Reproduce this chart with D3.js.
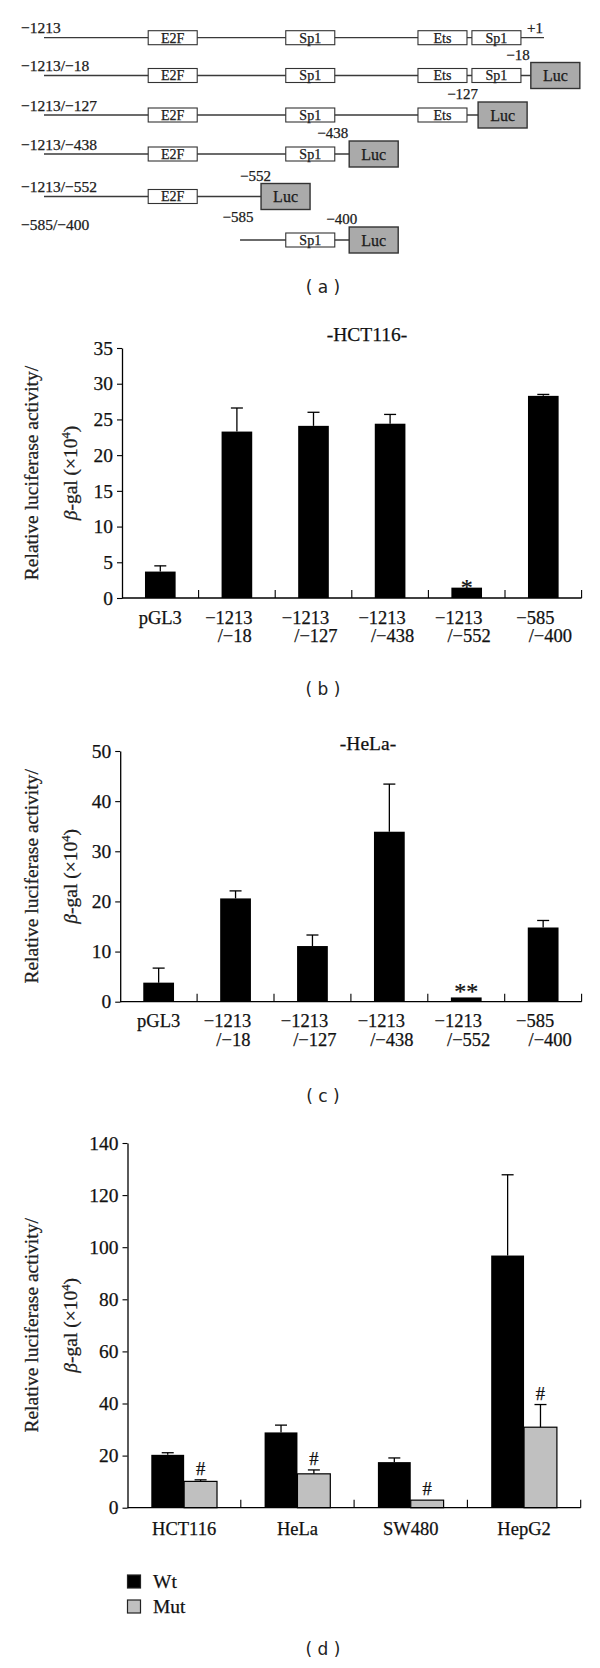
<!DOCTYPE html>
<html><head><meta charset="utf-8">
<script src="https://cdn.jsdelivr.net/npm/d3@7"></script>
<style>body{margin:0;background:#fff} svg{display:block} svg text{stroke:#111;stroke-width:0.25px}</style>
</head><body>
<svg id="fig" width="600" height="1668"></svg>
<script>
// ================= DATA =================
// (a) promoter schematic, positions in schematic bp units
const promoterStart = -1213, promoterEnd = 1;
const siteNames  = ["E2F", "Sp1", "Ets", "Sp1"];
const siteStarts = [-960, -626, -305, -174];
const siteEnds   = [-841, -507, -186, -55];
const constructLabels = ["−1213", "−1213/−18", "−1213/−127", "−1213/−438", "−1213/−552", "−585/−400"];
const constructFrom   = [-1213, -1213, -1213, -1213, -1213, -737];
const constructSites  = [[0,1,2,3], [0,1,2,3], [0,1,2], [0,1], [0], [1]];
const lucStarts       = [null, -31, -159, -472, -686, -472];
const cutLabels       = ["", "−18", "−127", "−438", "−552", "−400"];
const lucWidthBp = 119;

// (b), (c) deletion constructs
const catLine1 = ["pGL3", "−1213", "−1213", "−1213", "−1213", "−585"];
const catLine2 = ["", "/−18", "/−127", "/−438", "/−552", "/−400"];
const hctValues = [3.7, 23.3, 24.1, 24.4, 1.45, 28.3];
const hctErrors = [0.8, 3.3, 1.9, 1.3, 0, 0.2];
const hctMarks  = ["", "", "", "", "*", ""];
const helaValues = [3.8, 20.6, 11.1, 33.9, 0.85, 14.8];
const helaErrors = [2.9, 1.5, 2.2, 9.5, 0, 1.4];
const helaMarks  = ["", "", "", "", "**", ""];

// (d) Wt vs Mut
const cellLines = ["HCT116", "HeLa", "SW480", "HepG2"];
const seriesNames = ["Wt", "Mut"];
const wtValues  = [20.3, 28.9, 17.5, 96.8];
const wtErrors  = [0.8, 2.8, 1.6, 31.0];
const mutValues = [10.1, 13.0, 2.9, 30.9];
const mutErrors = [0.6, 1.5, 0, 8.7];
const mutMarks  = ["#", "#", "#", "#"];

// ================= STYLE / LAYOUT =================
const SERIF = "'Liberation Serif','Times New Roman',serif";
const SANS = "'DejaVu Sans',Verdana,sans-serif";
const svg = d3.select("#fig");

// ---------- Panel (a) ----------
const xs = d3.scaleLinear().domain([promoterStart, promoterEnd]).range([44, 544]);
const rowY = d3.scaleLinear().domain([0,1,2,3,4,5]).range([37.7, 75.5, 115, 154, 196.5, 240]);
const cutDx = [0, -1, 0, -1, 10, 8];
const gA = svg.append("g");
constructLabels.forEach((lab, i) => {
  const y = rowY(i);
  const endBp = lucStarts[i] === null ? promoterEnd : lucStarts[i];
  gA.append("line").attr("x1", xs(constructFrom[i])).attr("x2", xs(endBp))
    .attr("y1", y).attr("y2", y).attr("stroke", "#3a3a3a").attr("stroke-width", 1.3);
  constructSites[i].forEach(k => {
    const x0 = xs(siteStarts[k]), x1 = xs(siteEnds[k]);
    gA.append("rect").attr("x", x0).attr("y", y - 7).attr("width", x1 - x0).attr("height", 14)
      .attr("fill", "#fff").attr("stroke", "#333").attr("stroke-width", 1.1);
    gA.append("text").attr("x", (x0 + x1) / 2).attr("y", y + 4.8).attr("text-anchor", "middle")
      .attr("font-family", SERIF).attr("font-size", 14).attr("fill", "#222").text(siteNames[k]);
  });
  if (lucStarts[i] !== null) {
    const lx = xs(lucStarts[i]), lw = xs(lucStarts[i] + lucWidthBp) - lx;
    gA.append("rect").attr("x", lx).attr("y", y - 13).attr("width", lw).attr("height", 26)
      .attr("fill", "#aaaaaa").attr("stroke", "#333").attr("stroke-width", 1.4);
    gA.append("text").attr("x", lx + lw / 2).attr("y", y + 5.5).attr("text-anchor", "middle")
      .attr("font-family", SERIF).attr("font-size", 16).attr("fill", "#222").text("Luc");
    gA.append("text").attr("x", lx + cutDx[i]).attr("y", y - 16).attr("text-anchor", "end")
      .attr("font-family", SERIF).attr("font-size", 15).attr("fill", "#222").text(cutLabels[i]);
  }
  gA.append("text").attr("x", 21).attr("y", i === 5 ? y - 10 : y - 4.5)
    .attr("font-family", SERIF).attr("font-size", 15.5).attr("fill", "#222").text(lab);
});
gA.append("text").attr("x", xs(promoterEnd) - 1).attr("y", rowY(0) - 4.5).attr("text-anchor", "end")
  .attr("font-family", SERIF).attr("font-size", 15).attr("fill", "#222").text("+1");
gA.append("text").attr("x", xs(constructFrom[5]) - 2).attr("y", rowY(5) - 18.5).attr("text-anchor", "middle")
  .attr("font-family", SERIF).attr("font-size", 15).attr("fill", "#222").text("−585");

// ---------- helpers ----------
function panelLabel(letter, y) {
  svg.append("text").attr("x", 323).attr("y", y).attr("text-anchor", "middle")
    .attr("font-family", SANS).attr("font-size", 17).attr("fill", "#222").style("stroke-width", 0)
    .attr("xml:space", "preserve").text("( " + letter + " )");
}
function yLabel(cy) {
  svg.append("text").attr("transform", `translate(38,${cy}) rotate(-90)`).attr("text-anchor", "middle")
    .attr("font-family", SERIF).attr("font-size", 19.5).attr("fill", "#222").text("Relative luciferase activity/");
  const t2 = svg.append("text").attr("transform", `translate(77,${cy}) rotate(-90)`).attr("text-anchor", "middle")
    .attr("font-family", SERIF).attr("font-size", 19.5).attr("fill", "#222");
  t2.append("tspan").attr("font-style", "italic").text("β");
  t2.append("tspan").text("-gal (×10");
  t2.append("tspan").attr("dy", -7).attr("font-size", 12.5).text("4");
  t2.append("tspan").attr("dy", 7).text(")");
}
function yAxis(g, y, left, yMax, step) {
  const ax = g.append("g").attr("transform", `translate(${left},0)`)
    .call(d3.axisLeft(y).tickValues(d3.range(0, yMax + 0.001, step)).tickSize(5).tickSizeOuter(0).tickPadding(4));
  ax.select(".domain").attr("stroke", "#000").attr("stroke-width", 1.3);
  ax.selectAll(".tick line").attr("stroke", "#000").attr("stroke-width", 1.1);
  ax.selectAll(".tick text").attr("font-family", SERIF).attr("font-size", 19.5).attr("fill", "#111");
}
function xAxisLine(g, left, right, bottom, n) {
  g.append("line").attr("x1", left).attr("x2", right).attr("y1", bottom).attr("y2", bottom)
    .attr("stroke", "#000").attr("stroke-width", 1.3);
  const stepW = (right - left) / n;
  d3.range(1, n + 1).forEach(i => {
    g.append("line").attr("x1", left + i * stepW).attr("x2", left + i * stepW)
      .attr("y1", bottom).attr("y2", bottom - 8).attr("stroke", "#000").attr("stroke-width", 1.1);
  });
}
function errBar(g, cx, yTop, yErr, cap) {
  if (Math.abs(yTop - yErr) < 0.5) return;
  g.append("line").attr("x1", cx).attr("x2", cx).attr("y1", yTop).attr("y2", yErr).attr("stroke", "#000").attr("stroke-width", 1.3);
  g.append("line").attr("x1", cx - cap / 2).attr("x2", cx + cap / 2).attr("y1", yErr).attr("y2", yErr).attr("stroke", "#000").attr("stroke-width", 1.3);
}

// ---------- Panels (b), (c) ----------
function deletionPanel(cfg) {
  const g = svg.append("g");
  const x = d3.scaleBand().domain(d3.range(catLine1.length)).range([cfg.left, cfg.right])
    .paddingInner(0.6).paddingOuter(0.3);
  const y = d3.scaleLinear().domain([0, cfg.yMax]).range([cfg.bottom, cfg.top]);
  g.selectAll("rect.bar").data(cfg.values).join("rect").attr("class", "bar")
    .attr("x", (d, i) => x(i)).attr("width", x.bandwidth())
    .attr("y", d => y(d)).attr("height", d => y(0) - y(d)).attr("fill", "#000");
  cfg.values.forEach((v, i) => errBar(g, x(i) + x.bandwidth() / 2, y(v), y(v + cfg.errors[i]), 12));
  cfg.marks.forEach((m, i) => {
    if (!m) return;
    g.append("text").attr("x", x(i) + x.bandwidth() / 2).attr("y", y(cfg.values[i] + cfg.errors[i]) + cfg.markDy)
      .attr("text-anchor", "middle").attr("font-family", SERIF).attr("font-size", 24).attr("fill", "#111").text(m);
  });
  yAxis(g, y, cfg.left, cfg.yMax, cfg.step);
  xAxisLine(g, cfg.left, cfg.right, cfg.bottom, catLine1.length);
  const step = x.step();
  catLine1.forEach((l1, i) => {
    const c = cfg.left + step * (i + 0.5);
    if (!catLine2[i]) {
      g.append("text").attr("x", c).attr("y", cfg.bottom + 25.5).attr("text-anchor", "middle")
        .attr("font-family", SERIF).attr("font-size", 18.5).attr("fill", "#111").text(l1);
    } else {
      const t1 = g.append("text").attr("x", c - 8).attr("y", cfg.bottom + 25.5).attr("text-anchor", "middle")
        .attr("font-family", SERIF).attr("font-size", 18.5).attr("fill", "#111").text(l1);
      const w1 = t1.node().getComputedTextLength();
      g.append("text").attr("x", c - 8 - w1 / 2 + 12.5).attr("y", cfg.bottom + 44)
        .attr("font-family", SERIF).attr("font-size", 18.5).attr("fill", "#111").text(catLine2[i]);
    }
  });
  g.append("text").attr("x", cfg.titleX).attr("y", cfg.titleY).attr("text-anchor", "middle")
    .attr("font-family", SERIF).attr("font-size", 19.5).attr("fill", "#111").text(cfg.title);
  yLabel((cfg.top + cfg.bottom) / 2);
}

deletionPanel({ values: hctValues, errors: hctErrors, marks: hctMarks, yMax: 35, step: 5,
  left: 122, right: 581.6, top: 348, bottom: 598, title: "-HCT116-", titleX: 367, titleY: 341, markDy: 7 });
panelLabel("b", 695);

deletionPanel({ values: helaValues, errors: helaErrors, marks: helaMarks, yMax: 50, step: 10,
  left: 120.2, right: 581.6, top: 751, bottom: 1001.7, title: "-HeLa-", titleX: 368, titleY: 749.5, markDy: 2 });
panelLabel("c", 1102);
panelLabel("a", 292.5);

// ---------- Panel (d) ----------
(function () {
  const left = 127.5, right = 580.7, top = 1143, bottom = 1507.7, yMax = 140;
  const g = svg.append("g");
  const x0 = d3.scaleBand().domain(cellLines).range([left, right]).paddingInner(0.42).paddingOuter(0.21);
  const x1 = d3.scaleBand().domain(seriesNames).range([0, x0.bandwidth()]).padding(0);
  const y = d3.scaleLinear().domain([0, yMax]).range([bottom, top]);
  const color = d3.scaleOrdinal().domain(seriesNames).range(["#000", "#c0c0c0"]);
  const rows = cellLines.map((c, i) => ({ c, Wt: [wtValues[i], wtErrors[i]], Mut: [mutValues[i], mutErrors[i]], mark: mutMarks[i] }));
  rows.forEach(r => {
    seriesNames.forEach(s => {
      const [v, e] = r[s];
      const bx = x0(r.c) + x1(s);
      g.append("rect").attr("x", bx).attr("width", x1.bandwidth()).attr("y", y(v)).attr("height", y(0) - y(v))
        .attr("fill", color(s)).attr("stroke", "#000").attr("stroke-width", s === "Mut" ? 1.2 : 0);
      errBar(g, bx + x1.bandwidth() / 2, y(v), y(v + e), 12);
    });
    const [mv, me] = r.Mut;
    g.append("text").attr("x", x0(r.c) + x1("Mut") + x1.bandwidth() / 2).attr("y", y(mv + me) - 5)
      .attr("text-anchor", "middle").attr("font-family", SERIF).attr("font-size", 18.5).attr("fill", "#111").text(r.mark);
  });
  yAxis(g, y, left, yMax, 20);
  xAxisLine(g, left, right, bottom, cellLines.length);
  cellLines.forEach(c => {
    g.append("text").attr("x", x0(c) + x0.bandwidth() / 2).attr("y", bottom + 27).attr("text-anchor", "middle")
      .attr("font-family", SERIF).attr("font-size", 18.5).attr("fill", "#111").text(c);
  });
  yLabel((top + bottom) / 2);
  // legend
  const lg = svg.append("g");
  seriesNames.forEach((s, i) => {
    lg.append("rect").attr("x", 127.5).attr("y", 1575 + i * 25).attr("width", 13).attr("height", 13)
      .attr("fill", color(s)).attr("stroke", "#222").attr("stroke-width", 1.2);
    lg.append("text").attr("x", 153).attr("y", 1588 + i * 25).attr("font-family", SERIF)
      .attr("font-size", 19.5).attr("fill", "#111").text(s);
  });
})();
panelLabel("d", 1655);
</script>
</body></html>
